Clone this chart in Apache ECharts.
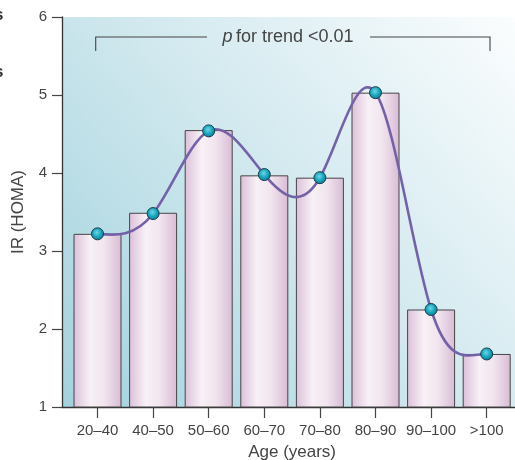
<!DOCTYPE html>
<html>
<head>
<meta charset="utf-8">
<script src="https://cdn.jsdelivr.net/npm/echarts@6/dist/echarts.min.js"></script>
<style>
html,body{margin:0;padding:0;background:#fff;}
#chart{width:515px;height:460px;}
</style>
</head>
<body>
<div id="chart"></div>
<script>
// ---- data ----
var categories = ['20\u201340', '40\u201350', '50\u201360', '60\u201370', '70\u201380', '80\u201390', '90\u2013100', '>100'];
var barValues = [3.22, 3.49, 4.55, 3.97, 3.94, 5.03, 2.25, 1.68];
var lineValues = [3.22, 3.48, 4.54, 3.98, 3.94, 5.03, 2.25, 1.68];
var yTicks = [1, 2, 3, 4, 5, 6];
var xAxisName = 'Age (years)';
var yAxisName = 'IR (HOMA)';

var FONT = '"Liberation Sans", Arial, sans-serif';
var chart = echarts.init(document.getElementById('chart'), null, {renderer: 'canvas'});

var barFill = new echarts.graphic.LinearGradient(0, 0, 1, 0, [
  {offset: 0, color: '#dbc0d9'},
  {offset: 0.35, color: '#f8f1f6'},
  {offset: 0.65, color: '#f1e4ee'},
  {offset: 1, color: '#d8bbd5'}
]);
var dotFill = new echarts.graphic.RadialGradient(0.45, 0.4, 0.6, [
  {offset: 0, color: '#6fd6e6'},
  {offset: 0.55, color: '#17a6be'},
  {offset: 1, color: '#0b7d93'}
]);
var bgFill = new echarts.graphic.LinearGradient(0, 1, 1, 0, [
  {offset: 0, color: '#a2d2de'},
  {offset: 0.5, color: '#d0e8ee'},
  {offset: 1, color: '#fbfdfe'}
]);

// cubic spline through pixel points (natural start, flat end) -> path data
function splinePath(pts) {
  var n = pts.length, i;
  var h = pts[1][0] - pts[0][0];
  var y = pts.map(function (p) { return p[1]; });
  var m = n - 1; // unknown slopes k0..k_{n-2}, k_{n-1} = 0
  var a = [], b = [], c = [], d = [];
  a.push(0); b.push(2); c.push(1); d.push(3 * (y[1] - y[0]) / h);
  for (i = 1; i < m; i++) {
    a.push(1); b.push(4); c.push(i + 1 < m ? 1 : 0);
    d.push(3 * (y[i + 1] - y[i - 1]) / h);
  }
  for (i = 1; i < m; i++) {
    var w = a[i] / b[i - 1];
    b[i] -= w * c[i - 1];
    d[i] -= w * d[i - 1];
  }
  var k = new Array(n).fill(0);
  k[m - 1] = d[m - 1] / b[m - 1];
  for (i = m - 2; i >= 0; i--) k[i] = (d[i] - c[i] * k[i + 1]) / b[i];
  k[n - 1] = 0;
  var s = 'M' + pts[0][0] + ' ' + pts[0][1];
  for (i = 0; i < n - 1; i++) {
    var x0 = pts[i][0], x1 = pts[i + 1][0];
    var hh = x1 - x0;
    s += ' C' + (x0 + hh / 3) + ' ' + (y[i] + k[i] * hh / 3) + ' ' +
         (x1 - hh / 3) + ' ' + (y[i + 1] - k[i + 1] * hh / 3) + ' ' + x1 + ' ' + y[i + 1];
  }
  return s;
}

var option = {
  animation: false,
  backgroundColor: '#ffffff',
  grid: [
    {left: 62, top: 17, width: 453, height: 390, outerBoundsMode: 'none', containLabel: false},
    {left: 69.7, top: 17, width: 444.8, height: 390, outerBoundsMode: 'none', containLabel: false}
  ],
  xAxis: [
    {
      gridIndex: 0, type: 'value', min: 0, max: 1,
      axisLine: {show: true, lineStyle: {color: '#333', width: 1.3}},
      axisTick: {show: false}, axisLabel: {show: false}, splitLine: {show: false}
    },
    {
      gridIndex: 1,
      type: 'category',
      data: categories,
      boundaryGap: true,
      axisLine: {show: false},
      axisTick: {show: true, alignWithLabel: true, length: 11, lineStyle: {color: '#444', width: 1.2}},
      axisLabel: {color: '#444', fontSize: 15, fontFamily: FONT, margin: 16, interval: 0},
      name: xAxisName,
      nameLocation: 'middle',
      nameGap: 37,
      nameTextStyle: {color: '#444', fontSize: 17, fontFamily: FONT}
    }
  ],
  yAxis: [
    {
      gridIndex: 0,
      type: 'value',
      min: yTicks[0],
      max: yTicks[yTicks.length - 1],
      interval: 1,
      splitLine: {show: false},
      axisLine: {show: true, lineStyle: {color: '#333', width: 1.3}},
      axisTick: {show: true, length: 10, lineStyle: {color: '#444', width: 1.2}},
      axisLabel: {color: '#444', fontSize: 15, fontFamily: FONT, margin: 15},
      name: yAxisName,
      nameLocation: 'middle',
      nameRotate: 90,
      nameGap: 35,
      nameTextStyle: {color: '#444', fontSize: 17, fontFamily: FONT}
    },
    {
      gridIndex: 1, type: 'value', min: yTicks[0], max: yTicks[yTicks.length - 1], interval: 1,
      show: false, splitLine: {show: false}
    }
  ],
  series: [
    {
      type: 'bar',
      xAxisIndex: 1, yAxisIndex: 1,
      data: barValues,
      barWidth: 48,
      itemStyle: {color: barFill, borderColor: '#454545', borderWidth: 1},
      z: 2
    },
    {
      type: 'custom',
      xAxisIndex: 1, yAxisIndex: 1,
      data: lineValues.map(function (v, i) { return [i, v]; }),
      z: 4,
      silent: true,
      renderItem: function (params, api) {
        if (params.dataIndex !== 0) return null;
        var pts = lineValues.map(function (v, i) { return api.coord([i, v]); });
        return {
          type: 'path',
          shape: {pathData: splinePath(pts)},
          style: {stroke: '#7462a8', lineWidth: 2.6, fill: null}
        };
      }
    },
    {
      type: 'line',
      xAxisIndex: 1, yAxisIndex: 1,
      data: lineValues,
      symbol: 'circle',
      symbolSize: 12,
      showAllSymbol: true,
      lineStyle: {width: 0, opacity: 0},
      itemStyle: {color: dotFill, borderColor: '#1c3a47', borderWidth: 1},
      z: 5
    }
  ],
  graphic: [
    {type: 'rect', z: -10, silent: true, shape: {x: 62, y: 17, width: 453, height: 390}, style: {fill: bgFill}},
    {type: 'polyline', z: 10, shape: {points: [[95.7, 51], [95.7, 37], [207, 37]]}, style: {stroke: '#444', lineWidth: 1.1, fill: null}},
    {type: 'polyline', z: 10, shape: {points: [[370, 37], [490, 37], [490, 51]]}, style: {stroke: '#444', lineWidth: 1.1, fill: null}},
    {type: 'text', z: 10, x: 288, y: 37, style: {
      text: '{i|p} {n|for trend <0.01}', align: 'center', verticalAlign: 'middle',
      rich: {
        i: {fontStyle: 'italic', fontSize: 18, fontFamily: FONT, fill: '#444'},
        n: {fontSize: 18, fontFamily: FONT, fill: '#444'}
      }
    }},
    {type: 'text', z: 10, x: -6, y: 15, style: {text: 's', fontSize: 17, fontWeight: 'bold', fontFamily: FONT, fill: '#333', verticalAlign: 'middle'}},
    {type: 'text', z: 10, x: -6, y: 72, style: {text: 's', fontSize: 17, fontWeight: 'bold', fontFamily: FONT, fill: '#333', verticalAlign: 'middle'}}
  ]
};
chart.setOption(option);
</script>
</body>
</html>
